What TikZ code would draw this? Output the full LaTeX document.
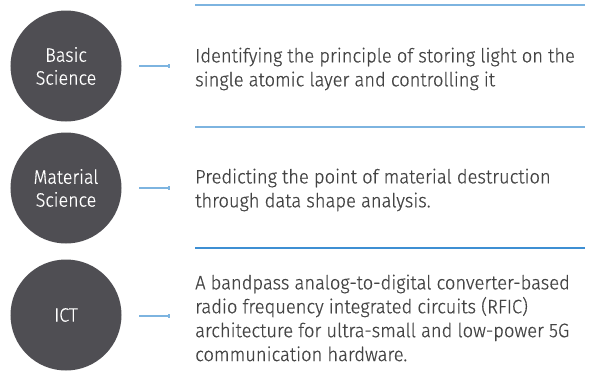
\documentclass[tikz,border=0pt]{standalone}
\usepackage{fontspec}
\setmainfont{Fira Sans}[UprightFont=* Light, FakeStretch=0.92, FakeBold=0.6]
\newfontfamily\descfont{Fira Sans}[UprightFont=* Light, FakeStretch=0.945, FakeBold=0.6]
\definecolor{circ}{HTML}{4F4E53}
\definecolor{txt}{HTML}{444444}
\definecolor{lineblue}{HTML}{7DB4E0}
\definecolor{lineblue2}{HTML}{3E8FD3}
\begin{document}
\begin{tikzpicture}[x=1bp,y=-1bp,
  topic/.style={circle,fill=circ,minimum size=111bp,inner sep=0pt,text=white,align=center,font=\fontsize{19.5}{23}\selectfont},
  desc/.style={anchor=west,text=txt,align=left,inner sep=0pt,font=\descfont\fontsize{19.5}{24}\selectfont},
  sep/.style={draw=lineblue,line width=1.3bp},
  tick/.style={draw=lineblue,line width=1.2bp}]
\useasboundingbox (0,0) rectangle (591,377);
\node[topic] (c1) at (66,66) {Basic\\Science};
\node[topic] (c2) at (66,188) {Material\\Science};
\node[topic] (c3) at (66,315) {ICT};
\coordinate (l1a) at (195,5); \coordinate (l1b) at (585,5);
\coordinate (l2a) at (195,127); \coordinate (l2b) at (585,127);
\coordinate (l3a) at (195,248); \coordinate (l3b) at (585,248);
\draw[sep] (l1a) -- (l1b);
\draw[sep] (l2a) -- (l2b);
\draw[sep,draw=lineblue2] (l3a) -- (l3b);
\coordinate (t1a) at (139,66); \coordinate (t1b) at (169,66);
\coordinate (t2a) at (139,188); \coordinate (t2b) at (169,188);
\coordinate (t3a) at (139,316); \coordinate (t3b) at (169,316);
\draw[tick] (t1a) -- (t1b) ++(0,-2) -- ++(0,4);
\draw[tick] (t2a) -- (t2b) ++(0,-2) -- ++(0,4);
\draw[tick] (t3a) -- (t3b) ++(0,-2) -- ++(0,4);
\node[desc] (d1) at (195,69) {Identifying the principle of storing light on the\\single atomic layer and controlling it};
\node[desc] (d2) at (195,190) {Predicting the point of material destruction\\through data shape analysis.};
\node[desc] (d3) at (195,318) {A bandpass analog-to-digital converter-based\\radio frequency integrated circuits (RFIC)\\architecture for ultra-small and low-power 5G\\communication hardware.};
\end{tikzpicture}
\end{document}
